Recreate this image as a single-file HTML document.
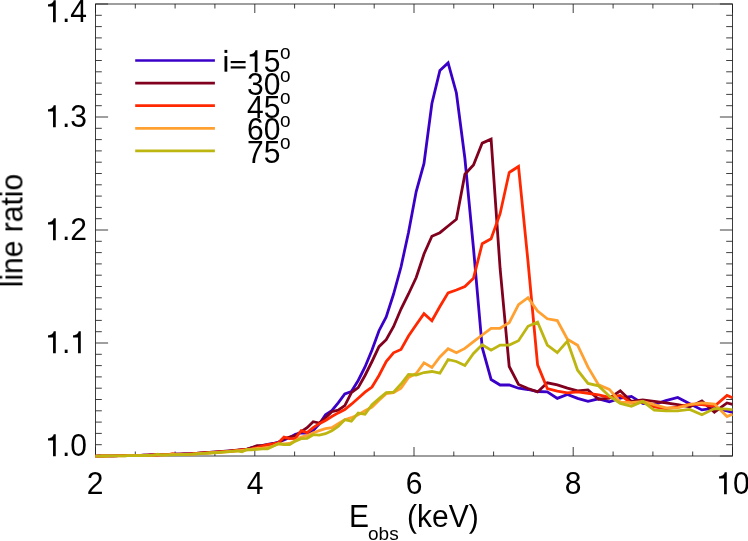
<!DOCTYPE html>
<html><head><meta charset="utf-8"><title>line ratio</title>
<style>
html,body{margin:0;padding:0;background:#fff;}
body{width:748px;height:541px;position:relative;overflow:hidden;font-family:"Liberation Sans",sans-serif;color:#000;}
.one{display:inline-block;width:0.556em;height:0.75em;vertical-align:baseline;fill:#000;overflow:visible;}
.t{position:absolute;white-space:nowrap;font-size:29px;line-height:29px;font-kerning:none;will-change:transform;}
</style></head><body>
<svg width="748" height="541" viewBox="0 0 748 541" style="position:absolute;left:0;top:0">
<g stroke="#1c1c1c" stroke-width="0.85" fill="none">
<rect x="95.5" y="4.0" width="637.0" height="452.0"/>
<path d="M95.5 456.0 v-9.0 M95.5 4.0 v9.0"/>
<path d="M135.3 456.0 v-4.5 M135.3 4.0 v4.5"/>
<path d="M175.1 456.0 v-4.5 M175.1 4.0 v4.5"/>
<path d="M214.9 456.0 v-4.5 M214.9 4.0 v4.5"/>
<path d="M254.8 456.0 v-9.0 M254.8 4.0 v9.0"/>
<path d="M294.6 456.0 v-4.5 M294.6 4.0 v4.5"/>
<path d="M334.4 456.0 v-4.5 M334.4 4.0 v4.5"/>
<path d="M374.2 456.0 v-4.5 M374.2 4.0 v4.5"/>
<path d="M414.0 456.0 v-9.0 M414.0 4.0 v9.0"/>
<path d="M453.8 456.0 v-4.5 M453.8 4.0 v4.5"/>
<path d="M493.6 456.0 v-4.5 M493.6 4.0 v4.5"/>
<path d="M533.4 456.0 v-4.5 M533.4 4.0 v4.5"/>
<path d="M573.2 456.0 v-9.0 M573.2 4.0 v9.0"/>
<path d="M613.1 456.0 v-4.5 M613.1 4.0 v4.5"/>
<path d="M652.9 456.0 v-4.5 M652.9 4.0 v4.5"/>
<path d="M692.7 456.0 v-4.5 M692.7 4.0 v4.5"/>
<path d="M732.5 456.0 v-9.0 M732.5 4.0 v9.0"/>
<path d="M95.5 456.0 h12.6 M732.5 456.0 h-12.6"/>
<path d="M95.5 444.7 h6.3 M732.5 444.7 h-6.3"/>
<path d="M95.5 433.4 h6.3 M732.5 433.4 h-6.3"/>
<path d="M95.5 422.1 h6.3 M732.5 422.1 h-6.3"/>
<path d="M95.5 410.8 h6.3 M732.5 410.8 h-6.3"/>
<path d="M95.5 399.5 h6.3 M732.5 399.5 h-6.3"/>
<path d="M95.5 388.2 h6.3 M732.5 388.2 h-6.3"/>
<path d="M95.5 376.9 h6.3 M732.5 376.9 h-6.3"/>
<path d="M95.5 365.6 h6.3 M732.5 365.6 h-6.3"/>
<path d="M95.5 354.3 h6.3 M732.5 354.3 h-6.3"/>
<path d="M95.5 343.0 h12.6 M732.5 343.0 h-12.6"/>
<path d="M95.5 331.7 h6.3 M732.5 331.7 h-6.3"/>
<path d="M95.5 320.4 h6.3 M732.5 320.4 h-6.3"/>
<path d="M95.5 309.1 h6.3 M732.5 309.1 h-6.3"/>
<path d="M95.5 297.8 h6.3 M732.5 297.8 h-6.3"/>
<path d="M95.5 286.5 h6.3 M732.5 286.5 h-6.3"/>
<path d="M95.5 275.2 h6.3 M732.5 275.2 h-6.3"/>
<path d="M95.5 263.9 h6.3 M732.5 263.9 h-6.3"/>
<path d="M95.5 252.6 h6.3 M732.5 252.6 h-6.3"/>
<path d="M95.5 241.3 h6.3 M732.5 241.3 h-6.3"/>
<path d="M95.5 230.0 h12.6 M732.5 230.0 h-12.6"/>
<path d="M95.5 218.7 h6.3 M732.5 218.7 h-6.3"/>
<path d="M95.5 207.4 h6.3 M732.5 207.4 h-6.3"/>
<path d="M95.5 196.1 h6.3 M732.5 196.1 h-6.3"/>
<path d="M95.5 184.8 h6.3 M732.5 184.8 h-6.3"/>
<path d="M95.5 173.5 h6.3 M732.5 173.5 h-6.3"/>
<path d="M95.5 162.2 h6.3 M732.5 162.2 h-6.3"/>
<path d="M95.5 150.9 h6.3 M732.5 150.9 h-6.3"/>
<path d="M95.5 139.6 h6.3 M732.5 139.6 h-6.3"/>
<path d="M95.5 128.3 h6.3 M732.5 128.3 h-6.3"/>
<path d="M95.5 117.0 h12.6 M732.5 117.0 h-12.6"/>
<path d="M95.5 105.7 h6.3 M732.5 105.7 h-6.3"/>
<path d="M95.5 94.4 h6.3 M732.5 94.4 h-6.3"/>
<path d="M95.5 83.1 h6.3 M732.5 83.1 h-6.3"/>
<path d="M95.5 71.8 h6.3 M732.5 71.8 h-6.3"/>
<path d="M95.5 60.5 h6.3 M732.5 60.5 h-6.3"/>
<path d="M95.5 49.2 h6.3 M732.5 49.2 h-6.3"/>
<path d="M95.5 37.9 h6.3 M732.5 37.9 h-6.3"/>
<path d="M95.5 26.6 h6.3 M732.5 26.6 h-6.3"/>
<path d="M95.5 15.3 h6.3 M732.5 15.3 h-6.3"/>
<path d="M95.5 4.0 h12.6 M732.5 4.0 h-12.6"/>
</g>
<g fill="none" stroke-width="2.8" stroke-linejoin="miter" stroke-linecap="butt">
<path stroke="#3a00c8" d="M95.5 456.1 L96.7 456.1 L99.4 456.0 L102.0 456.0 L104.7 455.9 L107.4 455.9 L110.2 455.9 L113.0 455.8 L115.9 455.8 L118.8 455.7 L121.8 455.7 L124.8 455.6 L127.9 455.6 L131.0 455.5 L134.1 455.5 L137.4 455.4 L140.6 455.3 L143.9 455.2 L147.3 455.1 L150.7 455.0 L154.2 454.9 L157.8 454.8 L161.4 454.7 L165.0 454.6 L168.7 454.5 L172.5 454.4 L176.3 454.2 L180.2 454.1 L184.2 454.0 L188.2 453.9 L192.3 453.7 L196.5 453.4 L200.7 453.1 L205.0 452.8 L209.4 452.5 L213.8 452.2 L218.3 451.9 L222.9 451.5 L227.5 451.2 L232.3 450.8 L237.1 450.3 L242.0 449.8 L246.9 449.3 L252.0 447.7 L257.1 446.7 L262.3 445.7 L267.6 444.3 L273.0 443.5 L278.4 442.0 L284.0 440.0 L289.6 437.5 L295.4 434.3 L301.2 433.0 L307.1 433.1 L313.2 430.5 L319.3 424.0 L325.5 414.7 L331.8 410.7 L338.2 402.8 L344.8 394.0 L351.4 391.5 L358.2 380.5 L365.0 367.0 L372.0 350.0 L379.0 330.7 L386.2 317.0 L393.5 294.3 L401.0 267.0 L408.5 232.5 L416.2 191.5 L424.0 163.5 L431.9 103.5 L439.9 70.5 L448.1 62.9 L456.4 93.0 L464.9 158.5 L473.5 248.5 L482.2 347.5 L491.1 379.5 L500.1 385.0 L509.2 385.0 L518.5 388.2 L528.0 389.5 L537.6 391.5 L547.3 391.8 L557.3 398.4 L567.4 394.4 L577.6 398.4 L588.0 401.4 L598.6 398.8 L609.4 401.9 L620.3 398.2 L631.4 396.4 L642.7 403.4 L654.2 404.6 L665.8 400.6 L677.7 397.4 L689.7 403.8 L701.9 409.9 L714.4 408.2 L727.0 410.9 L732.5 412.3"/>
<path stroke="#80001e" d="M95.5 456.1 L96.7 456.1 L99.4 456.0 L102.0 456.0 L104.7 455.9 L107.4 455.9 L110.2 455.8 L113.0 455.8 L115.9 455.7 L118.8 455.7 L121.8 455.6 L124.8 455.6 L127.9 455.5 L131.0 455.5 L134.1 455.4 L137.4 455.4 L140.6 455.3 L143.9 455.2 L147.3 455.1 L150.7 455.0 L154.2 454.9 L157.8 454.8 L161.4 454.7 L165.0 454.5 L168.7 454.4 L172.5 454.3 L176.3 454.2 L180.2 454.1 L184.2 453.9 L188.2 453.8 L192.3 453.6 L196.5 453.3 L200.7 453.0 L205.0 452.7 L209.4 452.4 L213.8 452.1 L218.3 451.8 L222.9 451.5 L227.5 451.1 L232.3 450.7 L237.1 450.2 L242.0 449.7 L246.9 449.2 L252.0 447.5 L257.1 445.7 L262.3 445.5 L267.6 445.0 L273.0 444.0 L278.4 443.1 L284.0 438.7 L289.6 437.1 L295.4 435.7 L301.2 431.7 L307.1 427.7 L313.2 421.7 L319.3 423.1 L325.5 417.7 L331.8 411.7 L338.2 410.2 L344.8 405.6 L351.4 392.6 L358.2 387.6 L365.0 375.5 L372.0 361.5 L379.0 346.7 L386.2 339.7 L393.5 326.7 L401.0 309.0 L408.5 294.0 L416.2 277.5 L424.0 254.0 L431.9 236.3 L439.9 232.7 L448.1 226.0 L456.4 219.3 L464.9 174.2 L473.5 164.9 L482.2 143.1 L491.1 139.1 L500.1 268.5 L509.2 366.5 L518.5 384.5 L528.0 388.5 L537.6 391.9 L547.3 382.8 L557.3 384.8 L567.4 388.1 L577.6 390.8 L588.0 389.9 L598.6 399.2 L609.4 398.2 L620.3 390.8 L631.4 401.4 L642.7 399.8 L654.2 401.4 L665.8 402.9 L677.7 404.6 L689.7 406.9 L701.9 400.9 L714.4 412.1 L727.0 402.9 L732.5 404.3"/>
<path stroke="#ff2800" d="M95.5 456.1 L96.7 456.1 L99.4 456.0 L102.0 456.0 L104.7 456.0 L107.4 455.9 L110.2 455.9 L113.0 455.8 L115.9 455.8 L118.8 455.7 L121.8 455.7 L124.8 455.7 L127.9 455.6 L131.0 455.6 L134.1 455.5 L137.4 455.5 L140.6 455.4 L143.9 455.3 L147.3 455.2 L150.7 455.1 L154.2 455.0 L157.8 454.9 L161.4 454.8 L165.0 454.7 L168.7 454.6 L172.5 453.6 L176.3 454.4 L180.2 454.2 L184.2 454.1 L188.2 454.0 L192.3 453.8 L196.5 453.5 L200.7 453.2 L205.0 452.9 L209.4 452.7 L213.8 452.4 L218.3 452.0 L222.9 451.7 L227.5 451.4 L232.3 451.0 L237.1 450.5 L242.0 450.0 L246.9 449.5 L252.0 448.8 L257.1 447.5 L262.3 446.0 L267.6 444.7 L273.0 443.9 L278.4 442.7 L284.0 437.1 L289.6 438.7 L295.4 438.3 L301.2 430.7 L307.1 432.7 L313.2 427.7 L319.3 423.7 L325.5 420.5 L331.8 416.5 L338.2 412.9 L344.8 409.5 L351.4 404.2 L358.2 398.2 L365.0 392.2 L372.0 387.0 L379.0 375.5 L386.2 361.5 L393.5 352.8 L401.0 349.5 L408.5 336.0 L416.2 324.8 L424.0 313.7 L431.9 320.7 L439.9 306.5 L448.1 292.8 L456.4 290.0 L464.9 286.5 L473.5 278.2 L482.2 243.7 L491.1 238.7 L500.1 213.7 L509.2 172.5 L518.5 166.5 L528.0 261.5 L537.6 364.8 L547.3 388.6 L557.3 391.1 L567.4 392.8 L577.6 391.9 L588.0 393.4 L598.6 394.8 L609.4 397.4 L620.3 395.4 L631.4 403.1 L642.7 401.9 L654.2 406.9 L665.8 408.6 L677.7 407.2 L689.7 404.1 L701.9 404.6 L714.4 406.2 L727.0 395.4 L732.5 397.8"/>
<path stroke="#ffa030" d="M95.5 456.1 L96.7 456.1 L99.4 456.1 L102.0 456.0 L104.7 456.0 L107.4 456.0 L110.2 455.9 L113.0 455.9 L115.9 455.9 L118.8 455.8 L121.8 455.8 L124.8 455.8 L127.9 455.7 L131.0 455.7 L134.1 455.6 L137.4 455.6 L140.6 455.6 L143.9 455.5 L147.3 455.4 L150.7 455.3 L154.2 455.2 L157.8 455.1 L161.4 455.0 L165.0 454.9 L168.7 454.8 L172.5 454.1 L176.3 454.6 L180.2 454.5 L184.2 454.4 L188.2 454.3 L192.3 454.1 L196.5 453.8 L200.7 453.5 L205.0 453.3 L209.4 453.0 L213.8 452.7 L218.3 452.4 L222.9 452.1 L227.5 451.7 L232.3 451.3 L237.1 450.9 L242.0 450.4 L246.9 449.8 L252.0 449.1 L257.1 448.5 L262.3 448.1 L267.6 447.5 L273.0 446.0 L278.4 444.0 L284.0 444.0 L289.6 443.5 L295.4 440.7 L301.2 437.1 L307.1 435.7 L313.2 432.7 L319.3 430.7 L325.5 428.7 L331.8 427.7 L338.2 423.7 L344.8 419.7 L351.4 417.7 L358.2 414.7 L365.0 410.7 L372.0 407.0 L379.0 400.2 L386.2 393.6 L393.5 392.6 L401.0 388.3 L408.5 377.5 L416.2 373.5 L424.0 362.9 L431.9 367.5 L439.9 357.0 L448.1 348.8 L456.4 352.8 L464.9 348.4 L473.5 341.7 L482.2 335.0 L491.1 328.3 L500.1 328.3 L509.2 322.7 L518.5 304.6 L528.0 297.6 L537.6 311.0 L547.3 318.8 L557.3 320.6 L567.4 339.2 L577.6 345.2 L588.0 367.2 L598.6 384.9 L609.4 389.4 L620.3 402.2 L631.4 402.7 L642.7 401.4 L654.2 404.6 L665.8 407.8 L677.7 407.8 L689.7 404.6 L701.9 402.9 L714.4 404.1 L727.0 416.6 L732.5 414.2"/>
<path stroke="#bdb510" d="M95.5 456.1 L96.7 456.1 L99.4 456.1 L102.0 456.0 L104.7 456.0 L107.4 456.0 L110.2 455.9 L113.0 455.9 L115.9 455.9 L118.8 455.8 L121.8 455.8 L124.8 455.8 L127.9 455.7 L131.0 455.7 L134.1 455.7 L137.4 455.6 L140.6 455.6 L143.9 455.5 L147.3 455.4 L150.7 455.3 L154.2 455.2 L157.8 454.2 L161.4 455.1 L165.0 455.0 L168.7 454.9 L172.5 454.8 L176.3 454.7 L180.2 454.6 L184.2 454.5 L188.2 454.3 L192.3 454.2 L196.5 453.9 L200.7 453.6 L205.0 453.3 L209.4 453.0 L213.8 452.8 L218.3 452.5 L222.9 452.1 L227.5 451.8 L232.3 451.4 L237.1 450.9 L242.0 451.7 L246.9 449.5 L252.0 449.8 L257.1 449.3 L262.3 448.8 L267.6 448.8 L273.0 446.3 L278.4 443.7 L284.0 444.7 L289.6 444.7 L295.4 441.1 L301.2 438.7 L307.1 438.3 L313.2 434.7 L319.3 435.1 L325.5 433.7 L331.8 430.7 L338.2 426.3 L344.8 419.7 L351.4 421.1 L358.2 413.1 L365.0 414.3 L372.0 404.6 L379.0 398.6 L386.2 392.6 L393.5 392.2 L401.0 384.0 L408.5 374.5 L416.2 375.0 L424.0 372.5 L431.9 371.5 L439.9 373.2 L448.1 359.5 L456.4 361.5 L464.9 365.5 L473.5 353.5 L482.2 344.7 L491.1 350.2 L500.1 345.1 L509.2 345.1 L518.5 340.7 L528.0 326.3 L537.6 322.1 L547.3 345.1 L557.3 352.7 L567.4 341.2 L577.6 370.2 L588.0 383.4 L598.6 385.9 L609.4 396.2 L620.3 403.4 L631.4 406.2 L642.7 401.4 L654.2 410.2 L665.8 410.9 L677.7 410.9 L689.7 409.4 L701.9 414.7 L714.4 408.6 L727.0 409.1 L732.5 409.9"/>
</g>
<g fill="none" stroke-width="2.7">
<path stroke="#3a00c8" d="M135.2 60.5 H214.9"/>
<path stroke="#80001e" d="M135.2 83.1 H214.9"/>
<path stroke="#ff2800" d="M135.2 105.7 H214.9"/>
<path stroke="#ffa030" d="M135.2 128.3 H214.9"/>
<path stroke="#bdb510" d="M135.2 150.9 H214.9"/>
</g>
<g fill="#000"><rect x="224.5" y="49.9" width="2.8" height="3.0"/><rect x="224.5" y="56.1" width="2.8" height="15.6"/><rect x="230.7" y="61.0" width="14.9" height="2.15"/><rect x="230.7" y="66.35" width="14.9" height="2.15"/></g>
</svg>
<div class="t" id="y14" style="left:86.90px;top:-3.40px;font-size:30.0px;transform-origin:0 24.30px;transform:translateX(-100%) scaleY(1.047);"><svg class="one" viewBox="0 -750 556 750"><path transform="translate(-10,-8)" d="M359 0V-703H290C275 -640 230 -585 101 -573V-500H268V0Z"/></svg>.4</div>
<div class="t" id="y13" style="left:87.40px;top:101.80px;font-size:30.0px;transform-origin:0 24.30px;transform:translateX(-100%) scaleY(1.047);"><svg class="one" viewBox="0 -750 556 750"><path transform="translate(-10,-8)" d="M359 0V-703H290C275 -640 230 -585 101 -573V-500H268V0Z"/></svg>.3</div>
<div class="t" id="y12" style="left:87.40px;top:214.80px;font-size:30.0px;transform-origin:0 24.30px;transform:translateX(-100%) scaleY(1.047);"><svg class="one" viewBox="0 -750 556 750"><path transform="translate(-10,-8)" d="M359 0V-703H290C275 -640 230 -585 101 -573V-500H268V0Z"/></svg>.2</div>
<div class="t" id="y11" style="left:87.40px;top:327.80px;font-size:30.0px;transform-origin:0 24.30px;transform:translateX(-100%) scaleY(1.047);"><svg class="one" viewBox="0 -750 556 750"><path transform="translate(-10,-8)" d="M359 0V-703H290C275 -640 230 -585 101 -573V-500H268V0Z"/></svg>.<svg class="one" viewBox="0 -750 556 750"><path transform="translate(-10,-8)" d="M359 0V-703H290C275 -640 230 -585 101 -573V-500H268V0Z"/></svg></div>
<div class="t" id="y10" style="left:86.70px;top:431.10px;font-size:30.0px;transform-origin:0 24.30px;transform:translateX(-100%) scaleY(1.047);"><svg class="one" viewBox="0 -750 556 750"><path transform="translate(-10,-8)" d="M359 0V-703H290C275 -640 230 -585 101 -573V-500H268V0Z"/></svg>.0</div>
<div class="t" id="x2" style="left:95.10px;top:469.20px;font-size:30.0px;transform-origin:0 24.30px;transform:translateX(-50%) scaleY(1.047);">2</div>
<div class="t" id="x4" style="left:254.75px;top:469.20px;font-size:30.0px;transform-origin:0 24.30px;transform:translateX(-50%) scaleY(1.047);">4</div>
<div class="t" id="x6" style="left:414.00px;top:469.20px;font-size:30.0px;transform-origin:0 24.30px;transform:translateX(-50%) scaleY(1.047);">6</div>
<div class="t" id="x8" style="left:573.25px;top:469.20px;font-size:30.0px;transform-origin:0 24.30px;transform:translateX(-50%) scaleY(1.047);">8</div>
<div class="t" id="x10" style="left:732.50px;top:469.20px;font-size:30.0px;transform-origin:0 24.30px;transform:translateX(-50%) scaleY(1.047);"><svg class="one" viewBox="0 -750 556 750"><path transform="translate(-10,-8)" d="M359 0V-703H290C275 -640 230 -585 101 -573V-500H268V0Z"/></svg>0</div>
<div class="t" id="xe" style="left:348.90px;top:501.50px;font-size:30.0px;transform-origin:0 24.30px;transform:scaleY(1.047);">E</div>
<div class="t" id="xs" style="left:368.30px;top:518.91px;font-size:19.0px;">obs</div>
<div class="t" id="xk" style="left:407.30px;top:501.50px;font-size:30.0px;transform-origin:0 24.30px;transform:scaleY(1.047);">(keV)</div>
<div class="t" id="l0" style="left:223.00px;top:47.30px;font-size:30.0px;transform-origin:0 24.30px;transform:scaleY(1.047);color:transparent;">i=</div>
<div class="t" id="l1" style="left:246.80px;top:47.30px;font-size:30.0px;transform-origin:0 24.30px;transform:scaleY(1.047);"><svg class="one" viewBox="0 -750 556 750"><path transform="translate(-10,-8)" d="M359 0V-703H290C275 -640 230 -585 101 -573V-500H268V0Z"/></svg>5</div>
<div class="t" id="d1" style="left:280.40px;top:37.91px;font-size:19.0px;transform-origin:0 20.49px;transform:scaleY(1.040);">o</div>
<div class="t" id="l2" style="left:246.80px;top:69.90px;font-size:30.0px;transform-origin:0 24.30px;transform:scaleY(1.047);">30</div>
<div class="t" id="d2" style="left:280.40px;top:60.51px;font-size:19.0px;transform-origin:0 20.49px;transform:scaleY(1.040);">o</div>
<div class="t" id="l3" style="left:246.80px;top:92.50px;font-size:30.0px;transform-origin:0 24.30px;transform:scaleY(1.047);">45</div>
<div class="t" id="d3" style="left:280.40px;top:83.11px;font-size:19.0px;transform-origin:0 20.49px;transform:scaleY(1.040);">o</div>
<div class="t" id="l4" style="left:246.80px;top:115.10px;font-size:30.0px;transform-origin:0 24.30px;transform:scaleY(1.047);">60</div>
<div class="t" id="d4" style="left:280.40px;top:105.71px;font-size:19.0px;transform-origin:0 20.49px;transform:scaleY(1.040);">o</div>
<div class="t" id="l5" style="left:246.80px;top:137.70px;font-size:30.0px;transform-origin:0 24.30px;transform:scaleY(1.047);">75</div>
<div class="t" id="d5" style="left:280.40px;top:128.31px;font-size:19.0px;transform-origin:0 20.49px;transform:scaleY(1.040);">o</div>
<div class="t" id="yl" style="left:21.9px;top:262.50px;font-size:30px;transform-origin:0 24.30px;transform:rotate(-90deg) scaleY(1.047);">line ratio</div>
</body></html>
